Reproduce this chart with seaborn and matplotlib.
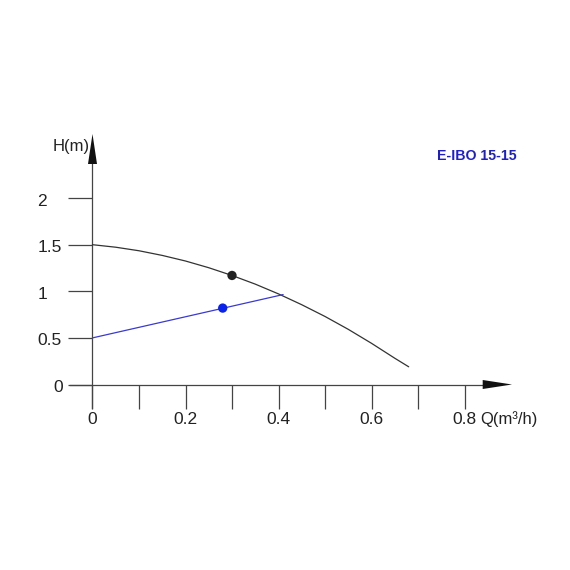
import numpy as np
import pandas as pd
import seaborn as sns
import matplotlib.pyplot as plt
from matplotlib.patches import Polygon

# ---- data ----
q_pump = [0.0, 0.05, 0.10, 0.15, 0.20, 0.25, 0.30, 0.35, 0.40, 0.45, 0.50, 0.55, 0.60, 0.65, 0.68]
h_pump = [1.50, 1.473, 1.435, 1.385, 1.325, 1.253, 1.17, 1.077, 0.972, 0.856, 0.73, 0.592, 0.442, 0.282, 0.19]
q_system = [0.0, 0.41]
h_system = [0.50, 0.965]
q_dot_pump = [0.30]
h_dot_pump = [1.17]
q_dot_sys = [0.28]
h_dot_sys = [0.82]
x_ticks = [0.0, 0.1, 0.2, 0.3, 0.4, 0.5, 0.6, 0.7, 0.8]
x_tick_labels = ['0', '', '0.2', '', '0.4', '', '0.6', '', '0.8']
y_ticks = [0.0, 0.5, 1.0, 1.5, 2.0]
y_tick_labels = ['0', '0.5', '1', '1.5', '2']
title = 'E-IBO 15-15'
x_label = 'Q(m³/h)'
y_label = 'H(m)'

sns.set_theme(style='white')
plt.rcParams['font.family'] = ['Liberation Sans', 'DejaVu Sans']

W = H = 570
X0, SX = 92.5, 465.0   # pixel of x=0, pixels per unit
Y0, SY = 384.5, 93.2   # pixel (from top) of y=0, pixels per unit

def dx(p):
    return (p - X0) / SX

def dy(p):
    return (Y0 - p) / SY

fig = plt.figure(figsize=(5.7, 5.7), dpi=100)
ax = fig.add_axes([0, 0, 1, 1])
ax.set_xlim(dx(0), dx(W))
ax.set_ylim(dy(H), dy(0))

axis_col = '#444444'
text_col = '#222222'

df_pump = pd.DataFrame({'Q': q_pump, 'H': h_pump})
df_sys = pd.DataFrame({'Q': q_system, 'H': h_system})
sns.lineplot(data=df_pump, x='Q', y='H', color='#333333', lw=0.9, ax=ax, zorder=3)
sns.lineplot(data=df_sys, x='Q', y='H', color='#3a3ad0', lw=0.9, ax=ax, zorder=3)
sns.scatterplot(x=q_dot_pump, y=h_dot_pump, color='#222222', s=45, edgecolor='none', ax=ax, zorder=5)
sns.scatterplot(x=q_dot_sys, y=h_dot_sys, color='#0a22ee', s=45, edgecolor='none', ax=ax, zorder=5)

ax.grid(False)
for s in ['top', 'right']:
    ax.spines[s].set_visible(False)
ax.spines['bottom'].set_position(('data', 0))
ax.spines['left'].set_position(('data', 0))
ax.spines['bottom'].set_bounds(dx(70), dx(490))
ax.spines['left'].set_bounds(dy(408), dy(155))
for s in ['bottom', 'left']:
    ax.spines[s].set_color(axis_col)
    ax.spines[s].set_linewidth(0.9)

ax.set_xticks(x_ticks, x_tick_labels)
ax.set_yticks(y_ticks, [''] * len(y_ticks))
ax.tick_params(axis='x', bottom=True, direction='out', length=17, width=0.9,
               color=axis_col, pad=2.7, labelsize=12.5, labelcolor=text_col)
ax.tick_params(axis='y', left=True, direction='out', length=17.3, width=0.9,
               color=axis_col, labelsize=12.5)
ax.set_xlabel('')
ax.set_ylabel('')

# arrowheads
ax.add_patch(Polygon([[dx(482.7), dy(380)], [dx(512), dy(384.5)], [dx(482.7), dy(389)]],
                     closed=True, color='#111111', lw=0, zorder=4))
ax.add_patch(Polygon([[dx(88), dy(164)], [dx(92.5), dy(134)], [dx(97), dy(164)]],
                     closed=True, color='#111111', lw=0, zorder=4))

# y tick labels
for v, lab in zip(y_ticks, y_tick_labels):
    if lab == '0':
        ax.text(dx(63.5), v - 3 / SY + 0.0, lab, ha='right', va='center', fontsize=12.5, color=text_col)
    else:
        ax.text(dx(37.5), v - 3 / SY, lab, ha='left', va='center', fontsize=12.5, color=text_col)

ax.text(dx(52.5), dy(146), y_label, ha='left', va='center', fontsize=12, color=text_col)
ax.text(dx(480), dy(419), x_label, ha='left', va='center', fontsize=12, color=text_col)
ax.text(dx(476.5), dy(156), title, ha='center', va='center', fontsize=10.2,
        fontweight='bold', color='#1f1fc8')

fig.savefig('out.png', dpi=100)
